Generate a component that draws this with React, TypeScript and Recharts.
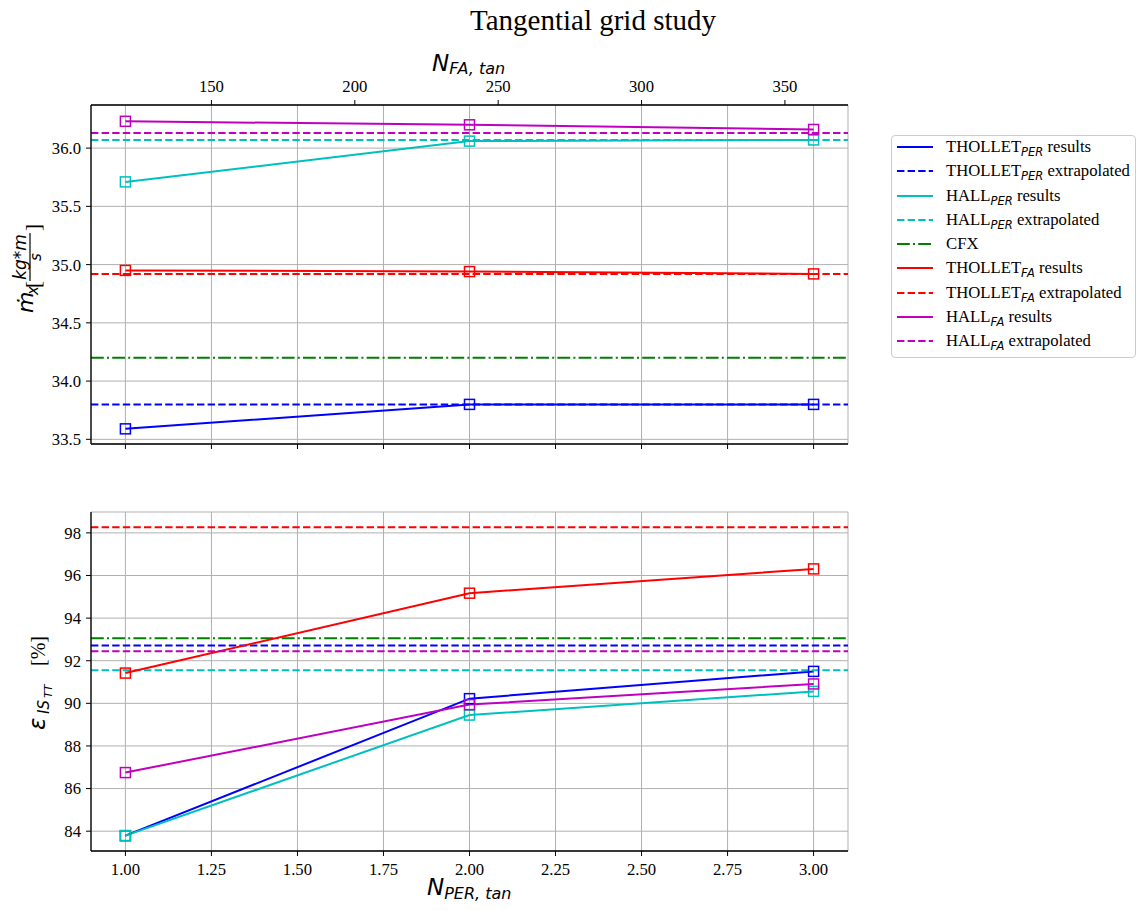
import React from "react";
import { LineChart, Line, XAxis, YAxis, CartesianGrid, ReferenceLine } from "recharts";

// grid sizes
const perCells = [1, 2, 3];
const faCells = [120, 240, 360];

// mass flow [kg*m/s]
const massThollPer = [33.59, 33.8, 33.8];
const massHallPer = [35.71, 36.06, 36.07];
const massThollFa = [34.95, 34.94, 34.92];
const massHallFa = [36.23, 36.2, 36.16];
// extrapolated: THOLLET_PER, HALL_PER, THOLLET_FA, HALL_FA
const massExtrap = [33.8, 36.07, 34.92, 36.13];
const massCfx = 34.2;

// efficiency [%]
const effThollPer = [83.79, 90.22, 91.5];
const effHallPer = [83.79, 89.45, 90.56];
const effThollFa = [91.42, 95.17, 96.31];
const effHallFa = [86.75, 89.94, 90.91];
const effExtrap = [92.72, 91.55, 98.26, 92.44];
const effCfx = 93.06;

const perTicks = [1, 1.25, 1.5, 1.75, 2, 2.25, 2.5, 2.75, 3];
const faTicks = [150, 200, 250, 300, 350];
const massTicks = [33.5, 34, 34.5, 35, 35.5, 36];
const effTicks = [84, 86, 88, 90, 92, 94, 96, 98];

const BLUE = "#0000ff";
const CYAN = "#00bfbf";
const GREEN = "#008000";
const RED = "#ff0000";
const MAG = "#bf00bf";
const DASH = "7.4 3.2";
const DASHDOT = "12.8 3.2 2 3.2";
const SERIF = "Liberation Serif, Times New Roman, serif";
const MATH = "DejaVu Sans, sans-serif";

const legendItems = [
  { name: "THOLLET", sub: "PER", rest: " results", color: BLUE, dash: "" },
  { name: "THOLLET", sub: "PER", rest: " extrapolated", color: BLUE, dash: DASH },
  { name: "HALL", sub: "PER", rest: " results", color: CYAN, dash: "" },
  { name: "HALL", sub: "PER", rest: " extrapolated", color: CYAN, dash: DASH },
  { name: "CFX", sub: "", rest: "", color: GREEN, dash: DASHDOT },
  { name: "THOLLET", sub: "FA", rest: " results", color: RED, dash: "" },
  { name: "THOLLET", sub: "FA", rest: " extrapolated", color: RED, dash: DASH },
  { name: "HALL", sub: "FA", rest: " results", color: MAG, dash: "" },
  { name: "HALL", sub: "FA", rest: " extrapolated", color: MAG, dash: DASH },
];

const tickStyle = { fill: "#000", fontFamily: SERIF, fontSize: 16.7 };
const axisStroke = { stroke: "#000", strokeWidth: 1.3 };

const squareDot = (color: string) => (p: any) => (
  <rect
    key={`sq-${color}-${p.index}`}
    x={p.cx - 5}
    y={p.cy - 5}
    width={10}
    height={10}
    fill="none"
    stroke={color}
    strokeWidth={1.5}
  />
);

function Panel({
  rows,
  extrap,
  cfx,
  yDomain,
  yTicks,
  yFormat,
  top,
}: {
  rows: any[];
  extrap: number[];
  cfx: number;
  yDomain: number[];
  yTicks: number[];
  yFormat: (v: number) => string;
  top: boolean;
}) {
  const height = top ? 470 : 380;
  return (
    <LineChart
      width={860}
      height={height}
      data={rows}
      margin={{ top: top ? 0 : 12, right: 12, bottom: 0, left: 0 }}
      style={{ fontFamily: SERIF }}
    >
      <CartesianGrid xAxisId="per" yAxisId="y" stroke="#b0b0b0" strokeWidth={1} />
      <XAxis
        xAxisId="per"
        dataKey="per"
        type="number"
        domain={[0.9, 3.1]}
        allowDataOverflow
        ticks={perTicks}
        height={top ? 26 : 29}
        axisLine={axisStroke}
        tickLine={{ stroke: "#000" }}
        tickSize={5}
        tickMargin={7}
        tick={top ? () => <g /> : tickStyle}
        tickFormatter={(v: number) => v.toFixed(2)}
      />
      {top ? (
        <XAxis
          xAxisId="fa"
          dataKey="fa"
          orientation="top"
          type="number"
          domain={[108, 372]}
          allowDataOverflow
          ticks={faTicks}
          height={105}
          axisLine={axisStroke}
          tickLine={{ stroke: "#000" }}
          tickSize={5}
          tickMargin={8}
          tick={tickStyle}
        />
      ) : (
        <XAxis
          xAxisId="fa"
          dataKey="fa"
          orientation="top"
          type="number"
          domain={[108, 372]}
          allowDataOverflow
          height={0}
          axisLine={axisStroke}
          tick={false}
          tickLine={false}
        />
      )}
      <YAxis
        yAxisId="y"
        type="number"
        domain={yDomain}
        allowDataOverflow
        ticks={yTicks}
        width={91}
        axisLine={axisStroke}
        tickLine={{ stroke: "#000" }}
        tickSize={5}
        tickMargin={5}
        tick={tickStyle}
        tickFormatter={yFormat}
      />
      <YAxis
        yAxisId="frame"
        orientation="right"
        type="number"
        domain={[0, 1]}
        width={0}
        axisLine={axisStroke}
        tick={false}
        tickLine={false}
      />

      <Line xAxisId="per" yAxisId="y" dataKey="thollPer" stroke={BLUE} strokeWidth={2} dot={squareDot(BLUE)} activeDot={false} isAnimationActive={false} />
      <ReferenceLine xAxisId="per" yAxisId="y" y={extrap[0]} stroke={BLUE} strokeWidth={2} strokeDasharray={DASH} />
      <Line xAxisId="per" yAxisId="y" dataKey="hallPer" stroke={CYAN} strokeWidth={2} dot={squareDot(CYAN)} activeDot={false} isAnimationActive={false} />
      <ReferenceLine xAxisId="per" yAxisId="y" y={extrap[1]} stroke={CYAN} strokeWidth={2} strokeDasharray={DASH} />
      <ReferenceLine xAxisId="per" yAxisId="y" y={cfx} stroke={GREEN} strokeWidth={2} strokeDasharray={DASHDOT} />
      <Line xAxisId="fa" yAxisId="y" dataKey="thollFa" stroke={RED} strokeWidth={2} dot={squareDot(RED)} activeDot={false} isAnimationActive={false} />
      <ReferenceLine xAxisId="per" yAxisId="y" y={extrap[2]} stroke={RED} strokeWidth={2} strokeDasharray={DASH} />
      <Line xAxisId="fa" yAxisId="y" dataKey="hallFa" stroke={MAG} strokeWidth={2} dot={squareDot(MAG)} activeDot={false} isAnimationActive={false} />
      <ReferenceLine xAxisId="per" yAxisId="y" y={extrap[3]} stroke={MAG} strokeWidth={2} strokeDasharray={DASH} />
    </LineChart>
  );
}

function Legend() {
  return (
    <div
      style={{
        position: "absolute",
        left: 891,
        top: 135,
        width: 245,
        height: 223,
        border: "1px solid #cccccc",
        borderRadius: 4,
        boxSizing: "border-box",
        background: "#fff",
      }}
    >
      {legendItems.map((it, i) => (
        <div
          key={i}
          style={{
            position: "absolute",
            left: 5,
            top: 11 + 24.25 * i - 12,
            height: 24,
            display: "flex",
            alignItems: "center",
            whiteSpace: "nowrap",
          }}
        >
          <svg width={36} height={6} style={{ marginRight: 13 }}>
            <line x1={0} y1={3} x2={36} y2={3} stroke={it.color} strokeWidth={2} strokeDasharray={it.dash || undefined} />
          </svg>
          <span style={{ fontFamily: SERIF, fontSize: 16.7, color: "#000" }}>
            {it.name}
            {it.sub && (
              <span style={{ fontFamily: MATH, fontStyle: "italic", fontSize: 11.5, position: "relative", top: 4 }}>
                {it.sub}
              </span>
            )}
            {it.rest}
          </span>
        </div>
      ))}
    </div>
  );
}

function Labels() {
  return (
    <svg width={1139} height={910} style={{ position: "absolute", left: 0, top: 0, pointerEvents: "none" }}>
      <text x={593} y={30} textAnchor="middle" fontFamily={SERIF} fontSize={29} fill="#000">
        Tangential grid study
      </text>
      <text x={432} y={71} fontFamily={MATH} fontStyle="italic" fill="#000">
        <tspan fontSize={23}>N</tspan>
        <tspan fontSize={16} dy={3}>FA, tan</tspan>
      </text>
      <text x={427} y={895} fontFamily={MATH} fontStyle="italic" fill="#000">
        <tspan fontSize={23}>N</tspan>
        <tspan fontSize={16} dy={4}>PER, tan</tspan>
      </text>
      <g transform="translate(30,267) rotate(-90)" fill="#000">
        <text x={-46} y={3} fontFamily={MATH} fontStyle="italic" fontSize={22}>ṁ</text>
        <text x={-28} y={8} fontFamily={MATH} fontStyle="italic" fontSize={15}>x</text>
        <text x={-21} y={10} fontFamily={SERIF} fontSize={21}>[</text>
        <text x={10} y={-4} textAnchor="middle" fontFamily={MATH} fontStyle="italic" fontSize={17}>kg*m</text>
        <line x1={-14} y1={0} x2={34} y2={0} stroke="#000" strokeWidth={1.2} />
        <text x={10} y={11} textAnchor="middle" fontFamily={MATH} fontStyle="italic" fontSize={15}>s</text>
        <text x={36} y={10} fontFamily={SERIF} fontSize={21}>]</text>
      </g>
      <g transform="translate(40,681) rotate(-90)" fill="#000">
        <text x={-49} y={5} fontFamily={MATH} fontStyle="italic" fontSize={23}>ε</text>
        <text x={-33} y={9} fontFamily={MATH} fontStyle="italic" fontSize={15}>IS</text>
        <text x={-17} y={12} fontFamily={MATH} fontStyle="italic" fontSize={11}>TT</text>
        <text x={15} y={5} fontFamily={SERIF} fontSize={20}>[%]</text>
      </g>
    </svg>
  );
}

export default function App() {
  const massRows = perCells.map((p, i) => ({
    per: p,
    fa: faCells[i],
    thollPer: massThollPer[i],
    hallPer: massHallPer[i],
    thollFa: massThollFa[i],
    hallFa: massHallFa[i],
  }));
  const effRows = perCells.map((p, i) => ({
    per: p,
    fa: faCells[i],
    thollPer: effThollPer[i],
    hallPer: effHallPer[i],
    thollFa: effThollFa[i],
    hallFa: effHallFa[i],
  }));

  return (
    <div style={{ position: "absolute", left: 0, top: 0, width: 1139, height: 910, background: "#fff", fontFamily: SERIF }}>
      <div style={{ position: "absolute", left: 0, top: 0 }}>
        <Panel
          rows={massRows}
          extrap={massExtrap}
          cfx={massCfx}
          yDomain={[33.46, 36.37]}
          yTicks={massTicks}
          yFormat={(v) => v.toFixed(1)}
          top
        />
      </div>
      <div style={{ position: "absolute", left: 0, top: 500 }}>
        <Panel
          rows={effRows}
          extrap={effExtrap}
          cfx={effCfx}
          yDomain={[83.07, 98.98]}
          yTicks={effTicks}
          yFormat={(v) => String(v)}
          top={false}
        />
      </div>
      <Legend />
      <Labels />
    </div>
  );
}
